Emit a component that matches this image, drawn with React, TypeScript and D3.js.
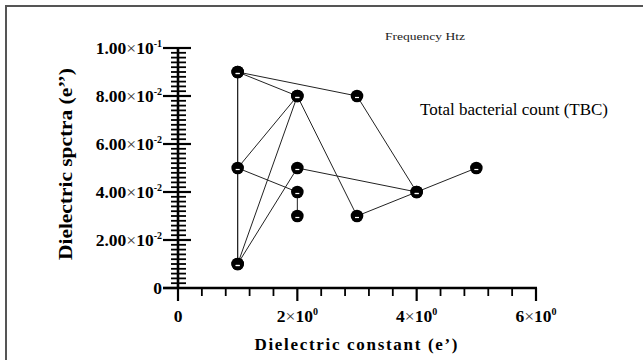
import React, { useEffect, useRef } from 'react'
import * as d3 from 'd3'

// points in drawing order (the polyline revisits some points)
const pointX = [2, 2, 1, 2, 1, 1, 1, 3, 4, 3, 2, 1, 2, 4, 5]
const pointY = [0.03, 0.04, 0.05, 0.08, 0.09, 0.01, 0.09, 0.08, 0.04, 0.03, 0.08, 0.01, 0.05, 0.04, 0.05]

const yTickValues = [0, 0.02, 0.04, 0.06, 0.08, 0.1]
const yTickMantissa = ['0', '2.00', '4.00', '6.00', '8.00', '1.00']
const yTickExponent = ['', '-2', '-2', '-2', '-2', '-1']

const xTickValues = [0, 2, 4, 6]
const xTickMantissa = ['0', '2', '4', '6']
const xTickExponent = ['', '0', '0', '0']

const FONT = '"Liberation Serif", "Times New Roman", serif'

export default function App() {
  const svgRef = useRef<SVGSVGElement>(null)

  useEffect(() => {
    if (!svgRef.current) return
    const svg = d3.select(svgRef.current)
    svg.selectAll('*').remove()

    const width = 643
    const height = 360

    const xScale = d3.scaleLinear().domain([0, 6]).range([178, 536])
    const yScale = d3.scaleLinear().domain([0, 0.1]).range([288, 48])

    // frame (top + left only, as cropped in the source)
    svg.append('path')
      .attr('d', `M6,${height} L6,6 L${width},6`)
      .attr('fill', 'none')
      .attr('stroke', '#555')
      .attr('stroke-width', 2)

    const x0 = xScale(0)
    const y0 = yScale(0)

    // y minor ticks
    const yMinor = d3.range(0, 0.1 + 1e-9, 0.002).filter((v) => Math.abs((v / 0.02) - Math.round(v / 0.02)) > 1e-6)
    svg.append('g')
      .selectAll('line')
      .data(yMinor)
      .join('line')
      .attr('x1', x0 - 7)
      .attr('x2', x0 + 8)
      .attr('y1', (d) => yScale(d))
      .attr('y2', (d) => yScale(d))
      .attr('stroke', '#000')
      .attr('stroke-width', 1.8)

    // y major ticks
    svg.append('g')
      .selectAll('line')
      .data(yTickValues)
      .join('line')
      .attr('x1', x0 - 15)
      .attr('x2', (d) => (d === 0 ? x0 : x0 + 13))
      .attr('y1', (d) => yScale(d))
      .attr('y2', (d) => yScale(d))
      .attr('stroke', '#000')
      .attr('stroke-width', 2.2)

    // x minor ticks
    const xMinor = d3.range(0, 6 + 1e-9, 0.4).filter((v) => Math.abs(v / 2 - Math.round(v / 2)) > 1e-6)
    svg.append('g')
      .selectAll('line')
      .data(xMinor)
      .join('line')
      .attr('x1', (d) => xScale(d))
      .attr('x2', (d) => xScale(d))
      .attr('y1', y0)
      .attr('y2', y0 + 8)
      .attr('stroke', '#000')
      .attr('stroke-width', 1.8)

    // x major ticks
    svg.append('g')
      .selectAll('line')
      .data(xTickValues)
      .join('line')
      .attr('x1', (d) => xScale(d))
      .attr('x2', (d) => xScale(d))
      .attr('y1', y0)
      .attr('y2', y0 + 13)
      .attr('stroke', '#000')
      .attr('stroke-width', 2.2)

    // axis lines
    svg.append('line')
      .attr('x1', x0).attr('x2', x0)
      .attr('y1', yScale(0.1)).attr('y2', y0)
      .attr('stroke', '#000').attr('stroke-width', 2.6)
    svg.append('line')
      .attr('x1', x0 - 15).attr('x2', xScale(6) + 1)
      .attr('y1', y0).attr('y2', y0)
      .attr('stroke', '#000').attr('stroke-width', 2.6)

    // y tick labels
    const yLab = svg.append('g')
      .style('font-family', FONT)
      .style('font-size', '17.5px')
      .style('font-weight', '700')
      .style('fill', '#000')
    yTickValues.forEach((v, i) => {
      const t = yLab.append('text')
        .attr('x', x0 - 16)
        .attr('y', yScale(v) + 6)
        .attr('text-anchor', 'end')
      t.append('tspan').text(yTickMantissa[i])
      if (yTickExponent[i]) {
        t.append('tspan').style('font-weight', '400').style('fill', '#333').text('×')
        t.append('tspan').text('10')
        t.append('tspan').attr('dy', -7).style('font-size', '10px').text(yTickExponent[i])
      }
    })

    // x tick labels
    const xLab = svg.append('g')
      .style('font-family', FONT)
      .style('font-size', '17.5px')
      .style('font-weight', '700')
      .style('fill', '#000')
    xTickValues.forEach((v, i) => {
      const t = xLab.append('text')
        .attr('x', xScale(v))
        .attr('y', 322)
        .attr('text-anchor', 'middle')
      t.append('tspan').text(xTickMantissa[i])
      if (xTickExponent[i]) {
        t.append('tspan').style('font-weight', '400').style('fill', '#333').text('×')
        t.append('tspan').text('10')
        t.append('tspan').attr('dy', -7).style('font-size', '10px').text(xTickExponent[i])
      }
    })

    // series line
    const pts: [number, number][] = pointX.map((x, i) => [x, pointY[i]])
    const line = d3.line<[number, number]>()
      .x((d) => xScale(d[0]))
      .y((d) => yScale(d[1]))
    svg.append('path')
      .datum(pts)
      .attr('d', line)
      .attr('fill', 'none')
      .attr('stroke', '#222')
      .attr('stroke-width', 1)

    // markers
    const mk = svg.append('g')
    mk.selectAll('circle')
      .data(pts)
      .join('circle')
      .attr('cx', (d) => xScale(d[0]))
      .attr('cy', (d) => yScale(d[1]))
      .attr('r', 6.3)
      .attr('fill', '#000')
    mk.selectAll('line')
      .data(pts)
      .join('line')
      .attr('x1', (d) => xScale(d[0]) - 2)
      .attr('x2', (d) => xScale(d[0]) + 2)
      .attr('y1', (d) => yScale(d[1]) + 1.5)
      .attr('y2', (d) => yScale(d[1]) + 1.5)
      .attr('stroke', '#fff')
      .attr('stroke-width', 1.2)

    // axis titles
    svg.append('text')
      .attr('transform', `translate(72,164) rotate(-90)`)
      .attr('text-anchor', 'middle')
      .attr('textLength', 192)
      .attr('lengthAdjust', 'spacingAndGlyphs')
      .style('font-family', FONT)
      .style('font-size', '18px')
      .style('font-weight', '700')
      .text('Dielectric spctra (e’’)')

    svg.append('text')
      .attr('x', 356)
      .attr('y', 350)
      .attr('text-anchor', 'middle')
      .attr('textLength', 203)
      .attr('lengthAdjust', 'spacing')
      .style('font-family', FONT)
      .style('font-size', '17px')
      .style('font-weight', '700')
      .text('Dielectric constant (e’)')

    svg.append('text')
      .attr('x', 385)
      .attr('y', 40)
      .attr('textLength', 80)
      .attr('lengthAdjust', 'spacingAndGlyphs')
      .style('font-family', FONT)
      .style('font-size', '11px')
      .style('fill', '#222')
      .text('Frequency Htz')

    svg.append('text')
      .attr('x', 420)
      .attr('y', 115)
      .attr('textLength', 188)
      .attr('lengthAdjust', 'spacingAndGlyphs')
      .style('font-family', FONT)
      .style('font-size', '16px')
      .style('fill', '#000')
      .text('Total bacterial count (TBC)')
  }, [])

  return (
    <svg
      ref={svgRef}
      width={643}
      height={360}
      style={{ position: 'fixed', left: 0, top: 0, background: '#fff' }}
    />
  )
}
